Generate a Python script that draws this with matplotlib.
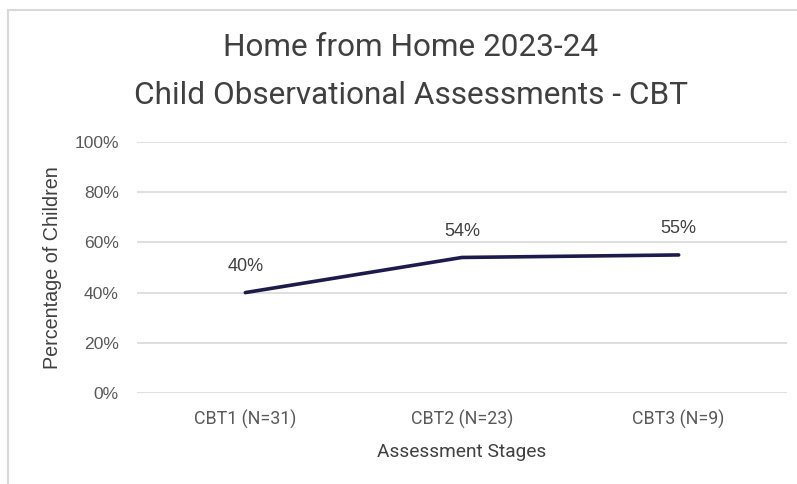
import matplotlib
matplotlib.use("Agg")
import matplotlib.pyplot as plt
from matplotlib.patches import Rectangle
from matplotlib.ticker import FuncFormatter

categories = ["CBT1 (N=31)", "CBT2 (N=23)", "CBT3 (N=9)"]
values = [40, 54, 55]
y_ticks = [0, 20, 40, 60, 80, 100]

plt.rcParams["font.family"] = ["Liberation Sans", "DejaVu Sans"]
NARROW = ["Roboto", "DejaVu Sans"]

fig = plt.figure(figsize=(7.97, 4.84), dpi=100)
fig.patch.set_facecolor("white")

# outer chart frame (light gray), extending past right/bottom edges
fig.add_artist(Rectangle((8/797, -0.05), 1.2, 1 - 10/484 + 0.05,
                         transform=fig.transFigure, fill=False,
                         edgecolor="#d9d9d9", linewidth=1.5))

ax = fig.add_axes([137/797, 1 - 393/484, 650/797, 251/484])
x = list(range(len(categories)))
ax.plot(x, values, color="#1c1b4b", linewidth=2.6, solid_capstyle="round")
ax.set_xlim(-0.5, len(categories) - 0.5)
ax.set_ylim(0, 100)
ax.set_yticks(y_ticks)
ax.yaxis.set_major_formatter(FuncFormatter(lambda v, p: f"{int(v)}%"))
ax.set_xticks(x)
ax.set_xticklabels(categories)
ax.tick_params(axis="x", labelfontfamily="Roboto", labelsize=12.8, labelcolor="#595959",
               pad=12, length=0)
ax.tick_params(axis="y", labelfontfamily="Liberation Sans", labelsize=12.6,
               labelcolor="#595959", pad=13, length=0)
ax.grid(axis="y", color="#d9d9d9", linewidth=1.2)
ax.set_axisbelow(True)
for s in ax.spines.values():
    s.set_visible(False)

for xi, v in zip(x, values):
    ax.annotate(f"{v}%", (xi, v), xytext=(0, 19), textcoords="offset points",
                ha="center", va="center", fontsize=13, color="#404040")

ax.set_xlabel("Assessment Stages", fontsize=13.8, color="#404040",
              family=NARROW, labelpad=10)
ax.set_ylabel("Percentage of Children", fontsize=14.2, color="#404040",
              labelpad=9)

fig.text(411/797, 1 - 48/484, "Home from Home 2023-24", ha="center", va="center",
         fontsize=22.7, color="#404040", family=NARROW)
fig.text(411/797, 1 - 96/484, "Child Observational Assessments - CBT", ha="center",
         va="center", fontsize=22.7, color="#404040", family=NARROW)

fig.savefig("out.png", dpi=100, facecolor="white")
